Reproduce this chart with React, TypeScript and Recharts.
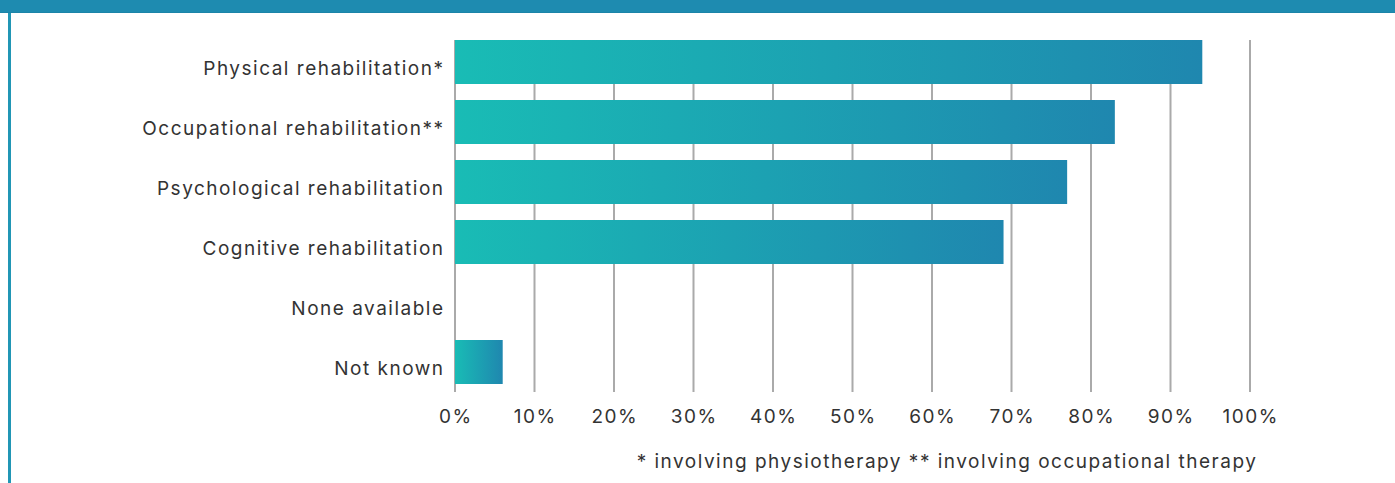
import React from 'react';
import { BarChart, Bar, XAxis, YAxis, CartesianGrid } from 'recharts';

const categories = [
  'Physical rehabilitation*',
  'Occupational rehabilitation**',
  'Psychological rehabilitation',
  'Cognitive rehabilitation',
  'None available',
  'Not known',
];
const values = [94, 83, 77, 69, 0, 6];
const xTicks = [0, 10, 20, 30, 40, 50, 60, 70, 80, 90, 100];
const footnote = '* involving physiotherapy ** involving occupational therapy';

const FONT = "Inter, 'Open Sans', sans-serif";
const TEXT = '#333333';
const LS = 1.5;

const data = categories.map((name, i) => ({ name, value: values[i] }));

const YTick = (props: any) => {
  const { x, y, payload } = props;
  return (
    <text x={x + LS} y={y + 8} textAnchor="end" dominantBaseline="middle" fill={TEXT} fontFamily={FONT} fontSize={19} letterSpacing={LS}>
      {payload.value}
    </text>
  );
};

const XTick = (props: any) => {
  const { x, y, payload } = props;
  return (
    <text x={x + LS / 2} y={y} dy="0.71em" textAnchor="middle" fill={TEXT} fontFamily={FONT} fontSize={19} letterSpacing={LS}>
      {`${payload.value}%`}
    </text>
  );
};

const GridLine = (p: any) => (
  <line key={p.key ?? `${p.x1}`} x1={p.x1} x2={p.x2} y1={p.y1 + 8} y2={p.y2} stroke="#AAAAAA" strokeWidth={2} />
);

export default function App() {
  return (
    <div style={{ position: 'absolute', left: 0, top: 0, width: 1395, height: 483, background: '#fff', overflow: 'hidden' }}>
      <div style={{ position: 'absolute', left: 0, top: 0, width: 1395, height: 13, background: '#1E8BB0', borderBottom: '1px solid #1C84A8', boxSizing: 'border-box' }} />
      <div style={{ position: 'absolute', left: 8, top: 13, width: 3, height: 470, background: '#2196B5' }} />
      <div style={{ position: 'absolute', left: 0, top: 0 }}>
        <BarChart width={1395} height={483} data={data} layout="vertical" margin={{ top: 32, right: 145, bottom: 61, left: 0 }}>
          <defs>
            <linearGradient id="barGrad" x1="0" y1="0" x2="1" y2="0">
              <stop offset="0%" stopColor="#19BCB5" />
              <stop offset="100%" stopColor="#1F87AF" />
            </linearGradient>
          </defs>
          <CartesianGrid horizontal={false} vertical={GridLine as any} />
          <XAxis
            type="number"
            domain={[0, 100]}
            ticks={xTicks}
            interval={0}
            axisLine={false}
            tickLine={false}
            tickSize={0}
            tickMargin={18}
            height={30}
            tick={<XTick />}
          />
          <YAxis
            type="category"
            dataKey="name"
            width={455}
            axisLine={false}
            tickLine={false}
            tickSize={0}
            tickMargin={12}
            interval={0}
            tick={<YTick />}
          />
          <Bar dataKey="value" fill="url(#barGrad)" barSize={44} isAnimationActive={false} />
        </BarChart>
      </div>
      <div style={{ position: 'absolute', left: 947, top: 448, transform: 'translateX(-50%)', whiteSpace: 'nowrap', fontFamily: FONT, fontSize: 19, color: TEXT, lineHeight: '28px', letterSpacing: LS }}>
        {footnote}
      </div>
    </div>
  );
}
